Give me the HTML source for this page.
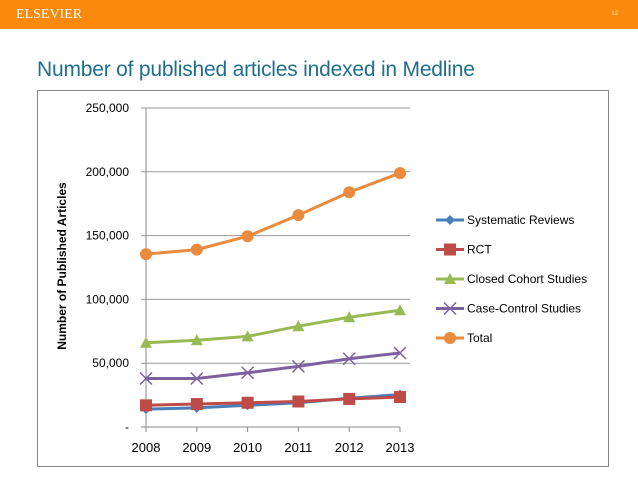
<!DOCTYPE html>
<html><head><meta charset="utf-8"><style>
body{margin:0;width:638px;height:479px;background:#fff;overflow:hidden;font-family:"Liberation Sans",sans-serif;position:relative}
#hdr{position:absolute;left:0;top:0;width:638px;height:29px;background:#f98a0c}
#logo{position:absolute;left:16px;top:7px;color:#fff;font-family:"Liberation Serif",serif;font-size:14px}
#pg{position:absolute;right:20px;top:11px;color:#fde;font-size:6px}
#title{position:absolute;left:37px;top:58px;color:#1f6e8c;font-size:21px;letter-spacing:-0.2px}
#box{position:absolute;left:37px;top:90px;width:572px;height:377px;border:1px solid #888;box-sizing:border-box}
svg{position:absolute;left:0;top:0}
text{font-family:"Liberation Sans",sans-serif}
</style></head><body>
<div id="hdr"><span id="logo">ELSEVIER</span><span id="pg">12</span></div>
<div id="title">Number of published articles indexed in Medline</div>
<div id="box"></div>
<svg id="chart" width="638" height="479"></svg>
<script>
const years=["2008","2009","2010","2011","2012","2013"];
const yTicks=[0,50000,100000,150000,200000,250000];
const yTickLabels=["-","50,000","100,000","150,000","200,000","250,000"];
const seriesNames=["Systematic Reviews","RCT","Closed Cohort Studies","Case-Control Studies","Total"];
const sysRev=[14000,15000,17000,19000,22500,25500];
const rct=[17000,18000,19000,20000,22000,23500];
const cohort=[66000,68000,71000,79000,86000,91500];
const caseCtrl=[38000,38000,42500,47500,53500,58000];
const total=[135500,139000,149500,166000,184000,199000];
const allSeries=[sysRev,rct,cohort,caseCtrl,total];
const colors=["#4a7ebb","#be4b48","#98b954","#7d60a0","#e98a3c"];
const markers=["diamond","square","triangle","x","circle"];
const svg=document.getElementById('chart');const NS="http://www.w3.org/2000/svg";
function X(i){return 146+i*50.8}
function Y(v){return 427-v/250000*319}
function mk(t,a,p){const e=document.createElementNS(NS,t);for(const k in a)e.setAttribute(k,a[k]);(p||svg).appendChild(e);return e}
yTicks.forEach((v,i)=>{
  const l=mk('line',{x1:141,x2:i==0?400:410,y1:Y(v),y2:Y(v),stroke:i==0?'#888':'#999','stroke-width':1});
  
  
  const t=mk('text',{x:129,y:Y(v)+4,'text-anchor':'end','font-size':12,fill:'#000'});t.textContent=yTickLabels[i];
  
  
});
const ax=mk('line',{x1:146,x2:146,y1:108,y2:432,stroke:'#888'});


years.forEach((y,i)=>{
  const tk=mk('line',{x1:X(i),x2:X(i),y1:427,y2:432,stroke:'#888'});
  
  
  const t=mk('text',{x:X(i),y:452,'text-anchor':'middle','font-size':13});t.textContent=y;
  
  
});
const yt=mk('text',{x:0,y:0,transform:'translate(66,266) rotate(-90)','text-anchor':'middle','font-size':12,'font-weight':'bold'});
yt.textContent='Number of Published Articles';


function marker(type,x,y,c,p){
  let e;
  if(type=='diamond')e=mk('polygon',{points:`${x},${y-5} ${x+5},${y} ${x},${y+5} ${x-5},${y}`,fill:c},p);
  else if(type=='square')e=mk('rect',{x:x-6,y:y-6,width:12,height:12,fill:c},p);
  else if(type=='triangle')e=mk('polygon',{points:`${x},${y-6} ${x+6},${y+5} ${x-6},${y+5}`,fill:c},p);
  else if(type=='x')e=mk('path',{d:`M${x-6} ${y-6}L${x+6} ${y+6}M${x+6} ${y-6}L${x-6} ${y+6}`,stroke:c,'stroke-width':1.5},p);
  else e=mk('circle',{cx:x,cy:y,r:6,fill:c},p);
  
  
}
allSeries.forEach((s,si)=>{
  const g=mk('g',{});
  
  
  mk('polyline',{points:s.map((v,i)=>X(i)+','+Y(v)).join(' '),fill:'none',stroke:colors[si],'stroke-width':3},g);
  s.forEach((v,i)=>marker(markers[si],X(i),Y(v),colors[si],g));
  const ly=220+si*29.5;
  const lg=mk('g',{});
  
  
  mk('line',{x1:436,x2:464,y1:ly,y2:ly,stroke:colors[si],'stroke-width':3},lg);
  marker(markers[si],450,ly,colors[si],lg);
  const t=mk('text',{x:467,y:ly+4,'font-size':12},lg);t.textContent=seriesNames[si];
});
</script>
</body></html>
